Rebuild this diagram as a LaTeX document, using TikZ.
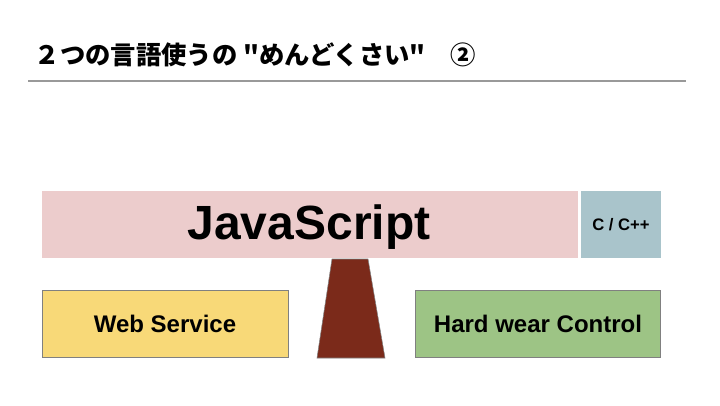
\documentclass[tikz,border=0pt]{standalone}
\usepackage{fontspec}
\setmainfont{Liberation Sans}
\newfontfamily\jpfont{Noto Sans CJK JP}
\usetikzlibrary{calc}
\definecolor{jspink}{RGB}{236,204,204}
\definecolor{cppblue}{RGB}{169,196,203}
\definecolor{webyellow}{RGB}{248,217,120}
\definecolor{hwgreen}{RGB}{157,196,133}
\definecolor{legbrown}{RGB}{123,42,26}
\tikzset{
  block/.style={draw=gray,font=\bfseries},
  flatblock/.style={font=\bfseries}
}
\begin{document}
\begin{tikzpicture}[x=0.75pt,y=-0.75pt]
  \useasboundingbox (0,0) rectangle (720,405);
  %% title
  \node[anchor=west,font=\jpfont\bfseries\fontsize{19}{22}\selectfont] (title) at (30,55) {２つの言語使うの "めんどくさい"　②};
  \draw[gray!80,line width=1pt] (28,81) -- (686,81);

  %% upper layer
  \fill[jspink] (42,191) rectangle (578,258);
  \node[flatblock,font=\bfseries\fontsize{36}{40}\selectfont] (js) at (309,227) {JavaScript};
  \fill[cppblue] (581,191) rectangle (661,258);
  \node[flatblock,font=\bfseries\fontsize{12.5}{14}\selectfont] (cpp) at (621,225) {C / C++};

  %% support
  \draw[gray,fill=legbrown] (332,259) -- (368,259) -- (385,358) -- (317,358) -- cycle;

  %% lower layer
  \draw[block,fill=webyellow] (42,290) rectangle (288,357);
  \node[flatblock,font=\bfseries\fontsize{18}{21}\selectfont] (web) at (165,324) {Web Service};
  \draw[block,fill=hwgreen] (415,290) rectangle (660,357);
  \node[flatblock,font=\bfseries\fontsize{18}{21}\selectfont] (hw) at (538,324) {Hard wear Control};
\end{tikzpicture}
\end{document}
